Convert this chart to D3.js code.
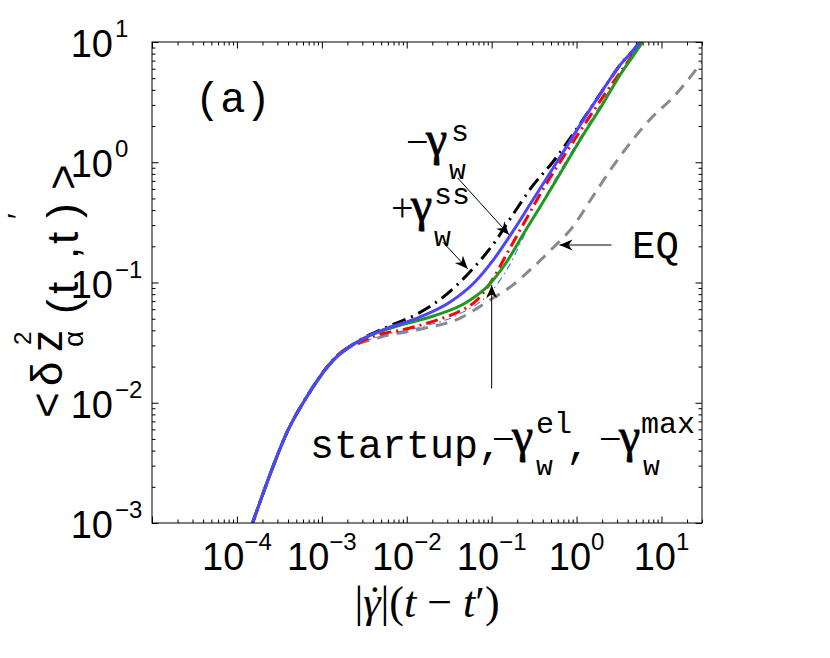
<!DOCTYPE html>
<html>
<head>
<meta charset="utf-8">
<script src="https://d3js.org/d3.v7.min.js"></script>
<style>
  body { margin: 0; background: #ffffff; }
  svg { display: block; }
</style>
</head>
<body>
<div id="chart"></div>
<script>
// ---- data ----
var xMajorTicks = [1e-5, 1e-4, 1e-3, 1e-2, 1e-1, 1e0, 1e1];
var xTickLabels = ["", "−4", "−3", "−2", "−1", "0", "1"];   // exponents of 10
var yMajorTicks = [1e-3, 1e-2, 1e-1, 1e0, 1e1];
var yTickLabels = ["−3", "−2", "−1", "0", "1"];

// EQ (grey dashed)
var eqCurve = [
  [1.2e-4, 6.1e-4], [1.53e-4, 1.0e-3], [2.38e-4, 2.39e-3], [3.98e-4, 5.88e-3], [6.49e-4, 0.0109],
  [1.63e-3, 0.0253], [4.81e-3, 0.035], [0.0142, 0.0408], [0.042, 0.0504], [0.0946, 0.0712],
  [0.177, 0.0951], [0.28, 0.126], [0.523, 0.193], [0.898, 0.289], [1.54, 0.514], [2.65, 0.914],
  [4.56, 1.53], [7.84, 2.39], [13.5, 3.43], [30, 6.85]
];
// -gamma_w^max (thin light blue dash-dot)
var minusMaxCurve = [
  [1.2e-4, 6.1e-4], [1.53e-4, 1.0e-3], [2.38e-4, 2.39e-3], [3.98e-4, 5.88e-3], [6.49e-4, 0.0109],
  [1.63e-3, 0.0253], [4.81e-3, 0.0357], [0.0142, 0.0423], [0.042, 0.0548], [0.0946, 0.0815],
  [0.163, 0.14], [0.244, 0.25], [0.431, 0.52], [1.97, 3.1], [5.8, 10.0]
];
// -gamma_w^el (red dash-dot)
var minusElCurve = [
  [1.2e-4, 6.1e-4], [1.53e-4, 1.0e-3], [2.38e-4, 2.39e-3], [3.98e-4, 5.88e-3], [6.49e-4, 0.0109],
  [1.63e-3, 0.0258], [2.8e-3, 0.0318], [4.81e-3, 0.0371], [8.28e-3, 0.040], [0.0142, 0.044],
  [0.0244, 0.0495], [0.042, 0.0577], [0.0667, 0.0712], [0.103, 0.1066], [0.15, 0.172],
  [0.244, 0.318], [0.398, 0.588], [0.723, 1.15], [1.97, 3.37], [5.7, 10.0], [7.2, 13.2]
];
// +gamma_w^ss (black dash-dot)
var plusSSCurve = [
  [1.2e-4, 6.1e-4], [1.53e-4, 1.0e-3], [2.38e-4, 2.39e-3], [3.98e-4, 5.88e-3], [6.49e-4, 0.0109],
  [1.35e-3, 0.0225], [2.8e-3, 0.0332], [5.82e-3, 0.0425], [0.0131, 0.0545], [0.028, 0.0775],
  [0.0582, 0.127], [0.108, 0.215], [0.177, 0.365], [0.303, 0.635], [0.523, 1.0], [1.08, 2.05],
  [1.97, 3.85], [3.21, 6.35], [5.51, 10.0], [7.0, 13.5]
];
// startup (green)
var startupCurve = [
  [1.2e-4, 6.1e-4], [1.53e-4, 1.0e-3], [2.38e-4, 2.39e-3], [3.98e-4, 5.88e-3], [6.49e-4, 0.0109],
  [1.35e-3, 0.0224], [3.2e-3, 0.0345], [8.28e-3, 0.044], [0.0202, 0.0524], [0.0508, 0.0685],
  [0.0946, 0.0968], [0.15, 0.148], [0.244, 0.263], [0.431, 0.504], [0.723, 0.931], [1.18, 1.66],
  [1.97, 2.94], [3.21, 5.24], [5.98, 10.0], [7.5, 13.0]
];
// -gamma_w^s (blue)
var minusSCurve = [
  [1.2e-4, 6.1e-4], [1.53e-4, 1.0e-3], [2.38e-4, 2.39e-3], [3.98e-4, 5.88e-3], [6.49e-4, 0.0109],
  [1.35e-3, 0.0225], [2.8e-3, 0.033], [5.82e-3, 0.0416], [0.0131, 0.0504], [0.0321, 0.0685],
  [0.063, 0.1006], [0.108, 0.159], [0.182, 0.273], [0.28, 0.441], [0.431, 0.712], [0.723, 1.27],
  [1.18, 2.21], [1.97, 3.85], [3.21, 6.35], [5.51, 10.0], [7.0, 13.5]
];

// annotation arrows: [from, to] in data units
var arrowMinusS = [[0.0398, 0.74], [0.16, 0.25]];
var arrowPlusSS = [[0.0266, 0.217], [0.0522, 0.13]];
var arrowEQ = [[2.58, 0.205], [0.63, 0.205]];
var arrowStartup = [[0.1, 0.01315], [0.1, 0.095]];

// ---- layout ----
var svgWidth = 830;
var svgHeight = 658;

var margin = {
  top: 42,
  right: 128,
  bottom: 135,
  left: 152
};

var width = svgWidth - margin.left - margin.right;
var height = svgHeight - margin.top - margin.bottom;

var sans = "Liberation Sans, Arial, Helvetica, sans-serif";
var mono = "Liberation Mono, Courier New, monospace";
var serif = "Liberation Serif, Times New Roman, serif";

var svg = d3.select("#chart")
  .append("svg")
  .attr("width", svgWidth)
  .attr("height", svgHeight);

svg.append("rect")
  .attr("width", svgWidth)
  .attr("height", svgHeight)
  .attr("fill", "#ffffff");

var defs = svg.append("defs");

defs.append("clipPath")
  .attr("id", "plotClip")
  .append("rect")
  .attr("width", width)
  .attr("height", height);

defs.append("marker")
  .attr("id", "head")
  .attr("viewBox", "-15 -7 16 14")
  .attr("refX", 0)
  .attr("refY", 0)
  .attr("markerWidth", 16)
  .attr("markerHeight", 14)
  .attr("markerUnits", "userSpaceOnUse")
  .attr("orient", "auto")
  .append("path")
  .attr("d", "M0,0 L-13,-5.5 L-9,0 L-13,5.5 Z")
  .attr("fill", "#000");

var chartGroup = svg.append("g")
  .attr("transform", `translate(${margin.left}, ${margin.top})`);

// scales
var xLogScale = d3.scaleLog()
  .domain([1e-5, 30])
  .range([0, width]);

var yLogScale = d3.scaleLog()
  .domain([1e-3, 10])
  .range([height, 0]);

// minor ticks 2..9 of every decade
var xMinor = [];
for (var e = -5; e <= 1; e++) {
  for (var m = 2; m <= 9; m++) {
    var v = m * Math.pow(10, e);
    if (v <= 30) xMinor.push(v);
  }
}
var yMinor = [];
for (var e2 = -3; e2 <= 0; e2++) {
  for (var m2 = 2; m2 <= 9; m2++) {
    yMinor.push(m2 * Math.pow(10, e2));
  }
}

// inward ticks on all four sides
function addTicks(axisFn, scale, values, size, transform) {
  var g = chartGroup.append("g")
    .attr("transform", transform)
    .call(axisFn(scale).tickValues(values).tickSize(-size).tickFormat(""));
  g.select(".domain").remove();
  g.selectAll("line").attr("stroke", "#000").attr("stroke-width", 1);
}

addTicks(d3.axisBottom, xLogScale, xMajorTicks, 6.5, `translate(0, ${height})`);
addTicks(d3.axisBottom, xLogScale, xMinor, 3.5, `translate(0, ${height})`);
addTicks(d3.axisTop, xLogScale, xMajorTicks, 6.5, "translate(0, 0)");
addTicks(d3.axisTop, xLogScale, xMinor, 3.5, "translate(0, 0)");
addTicks(d3.axisLeft, yLogScale, yMajorTicks, 6.5, "translate(0, 0)");
addTicks(d3.axisLeft, yLogScale, yMinor, 3.5, "translate(0, 0)");
addTicks(d3.axisRight, yLogScale, yMajorTicks, 6.5, `translate(${width}, 0)`);
addTicks(d3.axisRight, yLogScale, yMinor, 3.5, `translate(${width}, 0)`);

// curves
var lineGen = d3.line()
  .x(d => xLogScale(d[0]))
  .y(d => yLogScale(d[1]))
  .curve(d3.curveMonotoneX);

var curvesGroup = chartGroup.append("g")
  .attr("clip-path", "url(#plotClip)");

function addCurve(data, color, lw, dash) {
  curvesGroup.append("path")
    .datum(data)
    .attr("d", lineGen)
    .attr("fill", "none")
    .attr("stroke", color)
    .attr("stroke-width", lw)
    .attr("stroke-dasharray", dash)
    .attr("stroke-linejoin", "round");
}

addCurve(eqCurve, "#8a8a8a", 3, "12,8");
addCurve(minusMaxCurve, "#4d78ff", 1.2, "7,4,1.5,4");
addCurve(minusElCurve, "#ff0000", 3, "12,5,2,5");
addCurve(plusSSCurve, "#000000", 3, "14,6,2,6");
addCurve(startupCurve, "#1f9a1f", 3, null);
addCurve(minusSCurve, "#4d44ff", 3, null);

// box
chartGroup.append("rect")
  .attr("width", width)
  .attr("height", height)
  .attr("fill", "none")
  .attr("stroke", "#000")
  .attr("stroke-width", 1);

// tick labels
xMajorTicks.forEach(function(v, i) {
  if (!xTickLabels[i]) return;
  var t = chartGroup.append("text")
    .attr("x", xLogScale(v))
    .attr("y", height + 47)
    .attr("text-anchor", "middle")
    .attr("font-family", sans)
    .attr("font-size", 38);
  t.append("tspan").text("10");
  t.append("tspan").attr("font-size", 24).attr("dy", -20).text(xTickLabels[i]);
});

yMajorTicks.forEach(function(v, i) {
  var t = chartGroup.append("text")
    .attr("font-family", sans)
    .attr("font-size", 38);
  t.append("tspan")
    .attr("x", -39)
    .attr("y", yLogScale(v) + 15)
    .attr("text-anchor", "end")
    .text("10");
  t.append("tspan")
    .attr("x", -37)
    .attr("y", yLogScale(v) - 5)
    .attr("font-size", 24)
    .text(yTickLabels[i]);
});

// arrows
function addArrow(a) {
  chartGroup.append("line")
    .attr("x1", xLogScale(a[0][0]))
    .attr("y1", yLogScale(a[0][1]))
    .attr("x2", xLogScale(a[1][0]))
    .attr("y2", yLogScale(a[1][1]))
    .attr("stroke", "#000")
    .attr("stroke-width", 1)
    .attr("marker-end", "url(#head)");
}
addArrow(arrowMinusS);
addArrow(arrowPlusSS);
addArrow(arrowEQ);
addArrow(arrowStartup);

// annotation texts: one text element per label, pieces placed as tspans
function newLabel(parent) {
  return (parent || svg).append("text").attr("fill", "#000");
}
function piece(label, str, x, y, family, size) {
  return label.append("tspan")
    .attr("x", x)
    .attr("y", y)
    .attr("font-family", family)
    .attr("font-size", size)
    .text(str);
}
// greek gamma, drawn a little heavier like the symbol font
function gammaPiece(label, x, y) {
  return piece(label, "γ", x, y, serif, 48)
    .attr("stroke", "#000")
    .attr("stroke-width", 0.8);
}

var labA = newLabel();
piece(labA, "(a)", 195, 112, mono, 42);

var labS = newLabel();
piece(labS, "−", 406, 155, serif, 40);
gammaPiece(labS, 426, 155);
piece(labS, "s", 451, 141, mono, 30);
piece(labS, "w", 449, 179, mono, 28);

var labSS = newLabel();
piece(labSS, "+", 391, 221, serif, 40);
gammaPiece(labSS, 411, 221);
piece(labSS, "ss", 434, 204, mono, 30);
piece(labSS, "w", 434, 246, mono, 28);

var labEQ = newLabel();
piece(labEQ, "EQ", 632, 258, mono, 39);

var labStart = newLabel();
piece(labStart, "startup,", 310, 458, mono, 40);
piece(labStart, "−", 492, 452, serif, 40);
gammaPiece(labStart, 512, 452);
piece(labStart, "el", 536, 433, mono, 30);
piece(labStart, "w", 536, 475, mono, 28);
piece(labStart, ",", 566, 458, mono, 40);
piece(labStart, "−", 599, 452, serif, 40);
gammaPiece(labStart, 619, 452);
piece(labStart, "max", 641, 433, mono, 30);
piece(labStart, "w", 643, 475, mono, 28);

// x axis label |gamma-dot|(t - t')
var xLabelY = 617;
var xl = svg.append("text")
  .attr("x", margin.left + width / 2)
  .attr("y", xLabelY)
  .attr("text-anchor", "middle")
  .attr("font-family", serif)
  .attr("font-size", 44);
xl.append("tspan").text("|");
var gam = xl.append("tspan").attr("font-style", "italic").text("γ");
var dot = xl.append("tspan").text("˙");
var after = xl.append("tspan").text("|(");
xl.append("tspan").attr("font-style", "italic").text("t");
xl.append("tspan").text(" − ");
xl.append("tspan").attr("font-style", "italic").text("t");
xl.append("tspan").text("′)");

// tuck the dot back over the gamma without changing the total width
var gw = gam.node().getComputedTextLength();
var dw = dot.node().getComputedTextLength();
dot.attr("dx", -(gw + dw) / 2 + 3);
after.attr("dx", (gw - dw) / 2 - 3);

// y axis label, glyphs placed along the rotated baseline
var yl = svg.append("g")
  .attr("transform", "translate(62, 0) rotate(-90)");
var ylab = newLabel(yl).attr("font-family", sans);

function yGlyph(str, startY, size, shift) {
  ylab.append("tspan")
    .attr("x", -startY)
    .attr("y", shift)
    .attr("font-size", size)
    .text(str);
}
yGlyph("<", 418, 44, 0);
yGlyph("δ", 386, 44, 0);
yGlyph("z", 352, 44, 0);
yGlyph("2", 345, 24, -31);
yGlyph("α", 347, 28, 21);
yGlyph("(", 314, 44, 16);
yGlyph("t", 294, 44, 16);
yGlyph(",", 259, 44, 16);
yGlyph("t", 244, 44, 16);
yGlyph("′", 219, 30, -34);
yGlyph(")", 218, 44, 16);
yGlyph(">", 190, 44, 16);
</script>
</body>
</html>
